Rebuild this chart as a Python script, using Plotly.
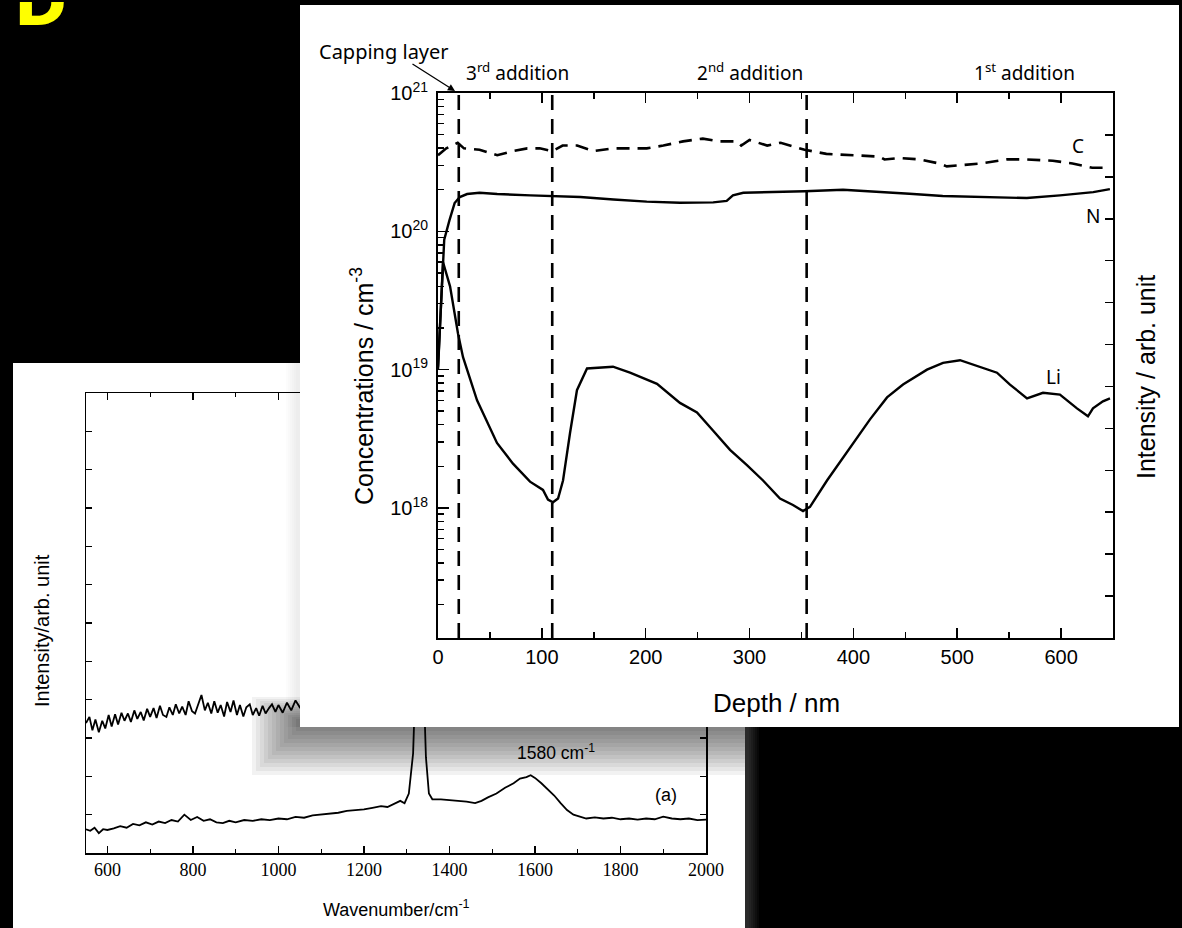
import plotly.graph_objects as go

W, H = 1182, 928


def px(x):
    return x / W


def py(y):
    return 1 - y / H


# ---------------- SIMS depth profile (top-right panel) ----------------
C_DEPTH = [0, 8, 19, 25, 40, 57, 72, 86, 98, 110, 120, 134, 150, 168, 188, 201, 217, 236, 255,
           271, 288, 292, 300, 317, 330, 353, 374, 406, 425, 430, 445, 464, 483, 490, 503, 522,
           548, 567, 592, 611, 630, 647]
C_CONC = [3.55e20, 3.98e20, 4.37e20, 3.98e20, 3.89e20, 3.55e20, 3.80e20, 3.98e20, 3.98e20, 3.80e20,
          4.17e20, 4.17e20, 3.80e20, 3.98e20, 3.98e20, 3.98e20, 4.17e20, 4.47e20, 4.68e20, 4.47e20,
          4.47e20, 4.17e20, 4.57e20, 4.17e20, 4.37e20, 3.89e20, 3.63e20, 3.55e20, 3.47e20, 3.31e20,
          3.39e20, 3.31e20, 3.09e20, 2.95e20, 3.02e20, 3.09e20, 3.31e20, 3.31e20, 3.24e20, 3.09e20,
          2.88e20, 2.88e20]

N_DEPTH = [0, 3, 6, 11, 16, 21, 28, 40, 57, 89, 110, 137, 169, 201, 233, 265, 278, 284, 294,
           320, 353, 390, 423, 454, 486, 519, 567, 599, 631, 647]
N_CONC = [1.05e19, 3.0e19, 8.7e19, 1.2e20, 1.6e20, 1.77e20, 1.86e20, 1.9e20, 1.86e20, 1.82e20,
          1.80e20, 1.77e20, 1.70e20, 1.64e20, 1.61e20, 1.62e20, 1.66e20, 1.82e20, 1.9e20,
          1.92e20, 1.95e20, 2.0e20, 1.92e20, 1.87e20, 1.80e20, 1.78e20, 1.74e20, 1.82e20, 1.92e20,
          2.02e20]

LI_DEPTH = [0, 4.8, 11.6, 19.3, 24.1, 37.6, 56.8, 72.2, 88.6, 101.1, 105.9, 110.7, 115.6, 120.4,
            127.1, 133.8, 143.5, 168.5, 184.9, 210.9, 233.0, 249.4, 264.8, 281.2, 297.5, 313.0,
            329.3, 341.8, 351.5, 358.2, 374.6, 396.7, 416.0, 432.4, 447.8, 470.9, 486.3, 502.7,
            519.0, 538.3, 550.8, 567.2, 582.6, 598.9, 615.3, 625.9, 630.7, 640.3, 647.1]
LI_CONC = [1.0e19, 6.0e19, 4.0e19, 1.82e19, 1.23e19, 6.0e18, 2.95e18, 2.09e18, 1.55e18, 1.35e18,
           1.15e18, 1.10e18, 1.17e18, 1.58e18, 3.47e18, 7.1e18, 1.02e19, 1.05e19, 9.5e18, 7.9e18,
           5.75e18, 4.9e18, 3.63e18, 2.63e18, 2.04e18, 1.58e18, 1.17e18, 1.05e18, 9.5e17, 1.02e18,
           1.58e18, 2.75e18, 4.37e18, 6.3e18, 7.8e18, 1.0e19, 1.12e19, 1.17e19, 1.07e19, 9.5e18,
           7.8e18, 6.2e18, 6.8e18, 6.6e18, 5.25e18, 4.6e18, 5.25e18, 5.9e18, 6.2e18]

DIVIDERS = [20, 110, 355]
SIMS_X_RANGE = [0, 650]
SIMS_LOG_RANGE = [17.06, 21.0]
DECADES = [1e18, 1e19, 1e20, 1e21]
DECADE_TEXT = ["10<sup>18</sup>", "10<sup>19</sup>", "10<sup>20</sup>", "10<sup>21</sup>"]
MINOR_VALS = [float(m) * 10.0 ** e for e in (17, 18, 19, 20) for m in range(2, 10)]

# ---------------- Raman spectra (bottom-left panel) ----------------
RAMAN_A_WN = [550, 560, 570, 580, 590, 600, 615, 630, 645, 660, 675, 690, 705, 720, 735, 750, 765,
              780, 795, 810, 825, 840, 855, 870, 885, 900, 920, 940, 960, 980, 1000, 1020, 1040,
              1060, 1080, 1100, 1120, 1140, 1160, 1180, 1200, 1220, 1240, 1255, 1270, 1285, 1295,
              1305, 1315, 1322, 1330, 1338, 1345, 1352, 1360, 1380, 1400, 1420, 1440, 1460, 1475,
              1490, 1510, 1530, 1550, 1565, 1580, 1590, 1600, 1615, 1630, 1645, 1660, 1675, 1690,
              1705, 1720, 1740, 1760, 1780, 1800, 1820, 1840, 1860, 1880, 1900, 1920, 1940, 1960,
              1980, 2000]
RAMAN_A_INT = [0.62, 0.58, 0.66, 0.52, 0.62, 0.6, 0.64, 0.7, 0.66, 0.76, 0.72, 0.8, 0.74, 0.82,
               0.78, 0.86, 0.82, 1.0, 0.86, 0.94, 0.84, 0.88, 0.8, 0.78, 0.84, 0.8, 0.86, 0.84,
               0.88, 0.86, 0.9, 0.88, 0.94, 0.92, 0.98, 1.0, 1.02, 1.05, 1.1, 1.12, 1.14, 1.18,
               1.22, 1.2, 1.28, 1.36, 1.3, 1.55, 2.6, 5.0, 6.5, 5.0, 2.5, 1.55, 1.4, 1.4, 1.38,
               1.36, 1.34, 1.3, 1.36, 1.45, 1.55, 1.7, 1.82, 1.94, 1.98, 2.03, 1.96, 1.82, 1.66,
               1.5, 1.3, 1.12, 1.0, 0.94, 0.9, 0.93, 0.9, 0.92, 0.88, 0.9, 0.87, 0.9, 0.88, 0.95,
               0.9, 0.88, 0.9, 0.86, 0.87]

RAMAN_B_WN = [550, 558, 565, 572, 580, 588, 595, 603, 610, 618, 625, 633, 640, 648, 655, 663, 670,
              678, 685, 693, 700, 708, 715, 723, 730, 738, 745, 753, 760, 768, 775, 783, 790, 798,
              805, 813, 820, 828, 835, 843, 850, 858, 865, 873, 880, 888, 895, 903, 910, 918, 925,
              933, 940, 948, 955, 963, 970, 978, 985, 993, 1000, 1010, 1020, 1030, 1040, 1050, 1060]
RAMAN_B_INT = [3.39, 3.55, 3.2, 3.48, 3.15, 3.45, 3.25, 3.6, 3.3, 3.62, 3.35, 3.66, 3.45, 3.64,
               3.42, 3.72, 3.5, 3.68, 3.46, 3.76, 3.55, 3.78, 3.52, 3.84, 3.6, 3.55, 3.8, 3.6,
               3.88, 3.64, 3.82, 3.6, 3.96, 3.7, 3.64, 3.9, 4.12, 3.72, 3.92, 3.64, 3.96, 3.66,
               3.86, 3.56, 3.94, 3.68, 3.98, 3.6, 3.86, 3.56, 3.8, 3.88, 3.6, 3.78, 3.58, 3.84,
               3.64, 3.78, 3.88, 3.68, 3.86, 3.66, 3.92, 3.72, 3.98, 3.8, 3.9]

RAMAN_X_RANGE = [550, 2000]
RAMAN_Y_RANGE = [0, 12]

BLACK = "#000000"
ARIAL = "Liberation Sans, Arial, sans-serif"
TAHOMA = "Noto Sans, DejaVu Sans, sans-serif"
SERIF = "Liberation Serif, Times New Roman, serif"

fig = go.Figure()

# Raman traces (subplot xy)
fig.add_trace(go.Scatter(x=RAMAN_A_WN, y=RAMAN_A_INT, mode="lines", xaxis="x", yaxis="y",
                         line=dict(color=BLACK, width=1.8), showlegend=False, hoverinfo="skip"))
fig.add_trace(go.Scatter(x=RAMAN_B_WN, y=RAMAN_B_INT, mode="lines", xaxis="x", yaxis="y",
                         line=dict(color=BLACK, width=1.8), showlegend=False, hoverinfo="skip"))

# dummy subplot providing the opaque white card of the top panel
fig.add_trace(go.Scatter(x=[None], y=[None], xaxis="x2", yaxis="y2", showlegend=False,
                         hoverinfo="skip"))

# SIMS traces (subplot x3y3)
for d in DIVIDERS:
    fig.add_trace(go.Scatter(x=[d, d], y=[10.0 ** SIMS_LOG_RANGE[0], 10.0 ** SIMS_LOG_RANGE[1]],
                             mode="lines", xaxis="x3", yaxis="y3",
                             line=dict(color=BLACK, width=2.6, dash="15px,9px"),
                             showlegend=False, hoverinfo="skip"))
fig.add_trace(go.Scatter(x=C_DEPTH, y=C_CONC, mode="lines", xaxis="x3", yaxis="y3",
                         line=dict(color=BLACK, width=2.6, dash="13px,8px"),
                         showlegend=False, hoverinfo="skip"))
fig.add_trace(go.Scatter(x=N_DEPTH, y=N_CONC, mode="lines", xaxis="x3", yaxis="y3",
                         line=dict(color=BLACK, width=2.4), showlegend=False, hoverinfo="skip"))
fig.add_trace(go.Scatter(x=LI_DEPTH, y=LI_CONC, mode="lines", xaxis="x3", yaxis="y3",
                         line=dict(color=BLACK, width=2.4), showlegend=False, hoverinfo="skip"))
# right-hand intensity axis (overlay)
fig.add_trace(go.Scatter(x=[None], y=[None], xaxis="x3", yaxis="y4", showlegend=False,
                         hoverinfo="skip"))

shapes = []
# faint glow right of the bottom card
for i in range(6):
    w = 14 - 2 * i
    shapes.append(dict(type="rect", xref="paper", yref="paper", x0=px(745), x1=px(745 + w),
                       y0=py(928), y1=py(727), fillcolor="rgba(255,255,255,0.03)",
                       line=dict(width=0), layer="below"))
# bottom-left white card
shapes.append(dict(type="rect", xref="paper", yref="paper", x0=px(13), x1=px(745),
                   y0=py(928), y1=py(363), fillcolor="white", line=dict(width=0), layer="below"))
# drop shadow of the top card: strong below, faint on the left
for i in range(12):
    w = 48 - 4 * i
    shapes.append(dict(type="rect", xref="paper", yref="paper", x0=px(300 - w), x1=px(745),
                       y0=py(727 + w), y1=py(727 - 30 + 2 * i), fillcolor="rgba(0,0,0,0.05)",
                       line=dict(width=0), layer="below"))
for i in range(6):
    w = 14 - 2 * i
    shapes.append(dict(type="rect", xref="paper", yref="paper", x0=px(300 - w), x1=px(300),
                       y0=py(727), y1=py(363), fillcolor="rgba(0,0,0,0.012)",
                       line=dict(width=0), layer="below"))

annotations = []
# Yellow panel letter, clipped by its own box at the top edge of the page
annotations.append(dict(text="<b>D</b>", x=px(12), y=1.0, xref="paper", yref="paper",
                        xanchor="left", yanchor="top", valign="bottom", height=38, width=60,
                        align="left", showarrow=False,
                        font=dict(family="DejaVu Sans", size=64, color="#ffff00")))


def ann(text, x, y, size, family=TAHOMA, angle=0, xanchor="center"):
    annotations.append(dict(text=text, x=px(x), y=py(y), xref="paper", yref="paper",
                            xanchor=xanchor, yanchor="middle", showarrow=False,
                            textangle=angle, font=dict(family=family, size=size, color=BLACK)))


ann("Capping layer", 384, 52, 20)
annotations.append(dict(text="", x=px(455), y=py(91), xref="paper", yref="paper",
                        ax=-44, ay=-28, showarrow=True, arrowhead=2, arrowsize=1.1,
                        arrowwidth=1.3, arrowcolor=BLACK))
ann("3<sup>rd</sup> addition", 517, 72, 19)
ann("2<sup>nd</sup> addition", 750, 72, 19)
ann("1<sup>st</sup> addition", 1024, 72, 19)
ann("C", 1078, 146, 19)
ann("N", 1093, 216, 19)
ann("Li", 1053, 377, 19)
ann("Concentrations / cm<sup>-3</sup>", 362, 386, 25, family=ARIAL, angle=-90)
ann("Intensity / arb. unit", 1146, 377, 25, family=ARIAL, angle=-90)
ann("Depth / nm", 776, 703, 26, family=ARIAL)

# Raman labels
ann("Intensity/arb. unit", 42, 631, 20, family=ARIAL, angle=-90)
ann("Wavenumber/cm<sup>-1</sup>", 396, 908, 18, family=ARIAL)
ann("1580 cm<sup>-1</sup>", 556, 752, 17.5, family=ARIAL)
ann("(a)", 666, 795, 18, family=ARIAL)

tick_common = dict(showline=True, linecolor=BLACK, ticks="inside", tickcolor=BLACK,
                   showgrid=False, zeroline=False)

fig.update_layout(
    width=W, height=H, margin=dict(l=0, r=0, t=0, b=0, autoexpand=False),
    paper_bgcolor="#000000", plot_bgcolor="#ffffff",
    showlegend=False, hovermode=False, dragmode=False,
    shapes=shapes, annotations=annotations,
    # Raman axes
    xaxis=dict(domain=[px(86), px(706)], range=RAMAN_X_RANGE, anchor="y",
               dtick=200, tick0=600, ticklen=7, tickwidth=1.2, linewidth=1.5, mirror="ticks",
               minor=dict(dtick=100, tick0=600, ticks="inside", ticklen=4, tickcolor=BLACK),
               tickfont=dict(family=SERIF, size=18, color=BLACK), **tick_common),
    yaxis=dict(domain=[py(853), py(393)], range=RAMAN_Y_RANGE, anchor="x",
               dtick=1, ticklen=6, tickwidth=1.2, linewidth=1.5, mirror="ticks",
               showticklabels=False, **tick_common),
    # card
    xaxis2=dict(domain=[px(300), px(1179)], range=[0, 1], visible=False, anchor="y2"),
    yaxis2=dict(domain=[py(727), py(5)], range=[0, 1], visible=False, anchor="x2"),
    # SIMS axes
    xaxis3=dict(domain=[px(438), px(1113)], range=SIMS_X_RANGE, anchor="y3",
                dtick=100, ticklen=10, tickwidth=1.6, linewidth=2, mirror="ticks",
                minor=dict(dtick=50, ticks="inside", ticklen=6, tickcolor=BLACK, tickwidth=1.6),
                tickfont=dict(family=ARIAL, size=20, color=BLACK), **tick_common),
    yaxis3=dict(domain=[py(638), py(93)], type="log", range=SIMS_LOG_RANGE, anchor="x3",
                tickmode="array", tickvals=DECADES, ticktext=DECADE_TEXT,
                ticklen=11, tickwidth=1.6, linewidth=2, ticklabelstandoff=4,
                minor=dict(tickmode="array", tickvals=MINOR_VALS, ticks="inside", ticklen=6,
                           tickcolor=BLACK, tickwidth=1.6),
                tickfont=dict(family=ARIAL, size=20, color=BLACK), **tick_common),
    yaxis4=dict(overlaying="y3", side="right", anchor="x3", range=[0, 13], dtick=1,
                ticklen=8, tickwidth=1.6, linewidth=2, showticklabels=False, **tick_common),
)

PAGE_FIX = ("document.documentElement.style.margin='0';document.body.style.margin='0';"
            "document.body.style.padding='0';document.documentElement.style.overflow='hidden';"
            "document.body.style.overflow='hidden';document.body.style.background='#000';")

fig.write_html("out.html", post_script=PAGE_FIX,
               config={"staticPlot": True, "displayModeBar": False, "responsive": False})
